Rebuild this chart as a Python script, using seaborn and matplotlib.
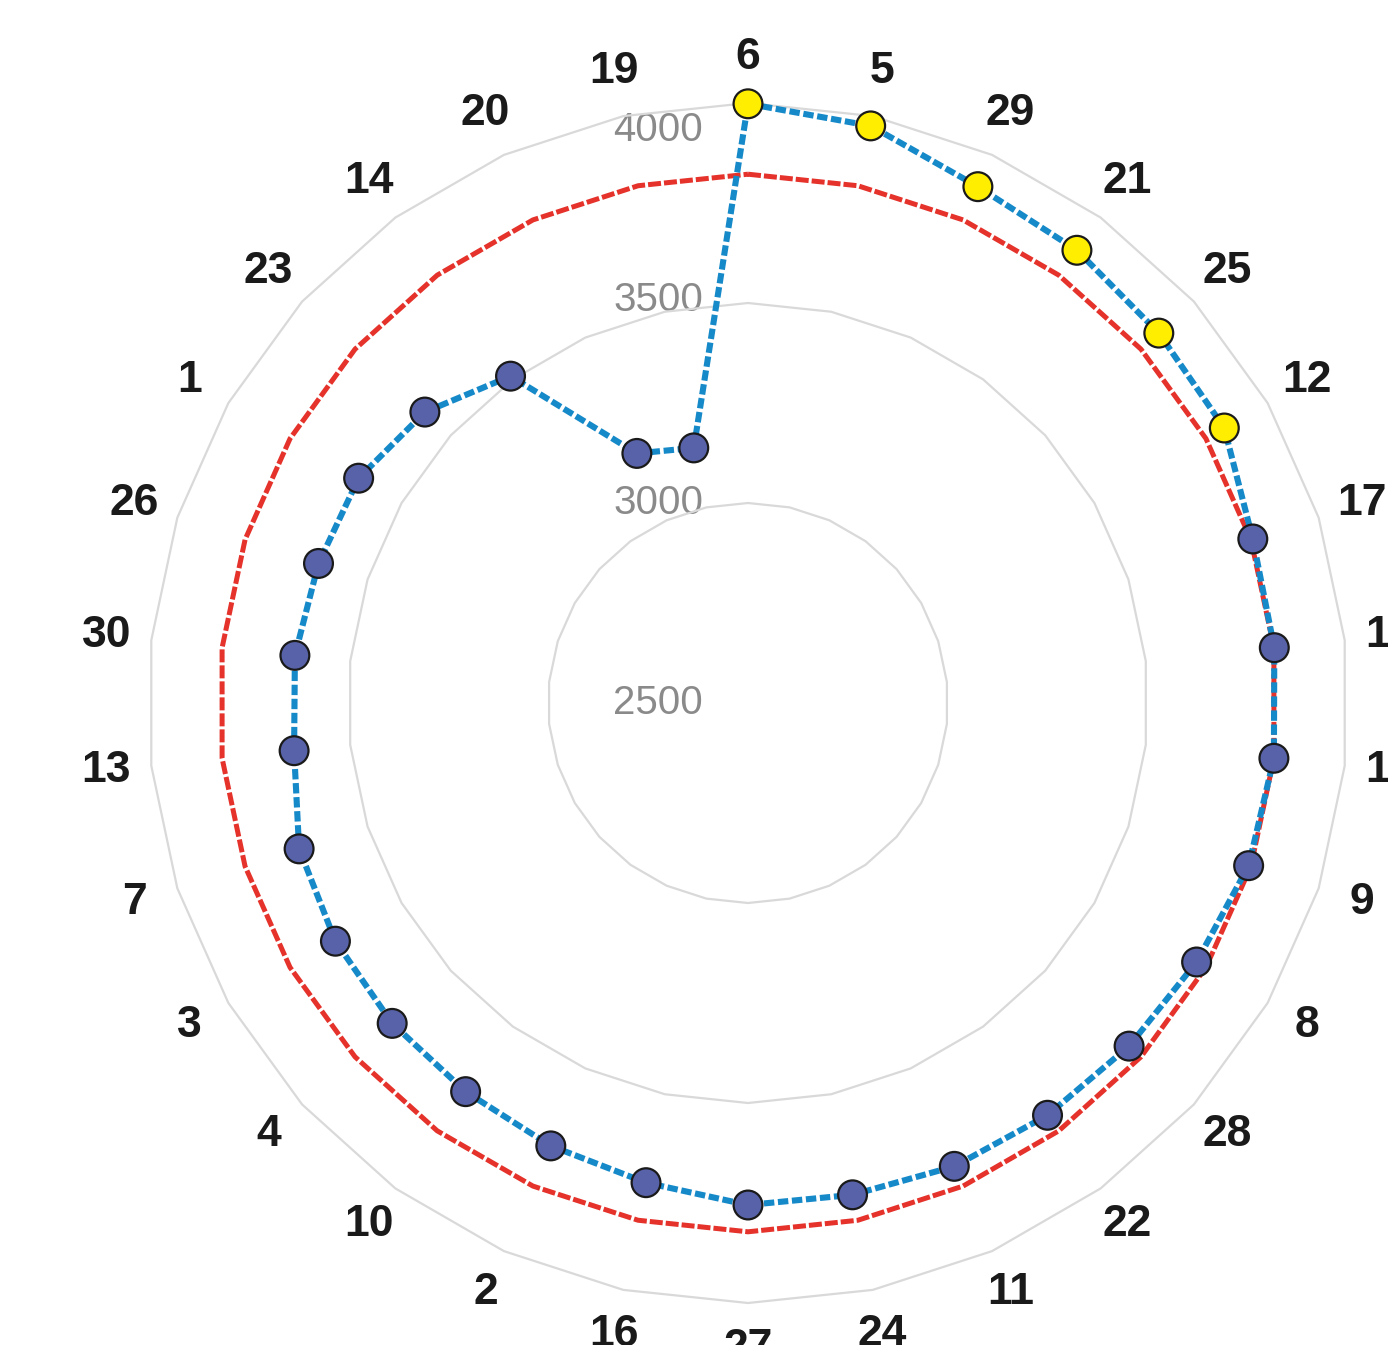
import numpy as np
import matplotlib
matplotlib.use("Agg")
import matplotlib.pyplot as plt
import matplotlib.transforms as mtransforms
import seaborn as sns
import pandas as pd

# categories, clockwise from the top
categories = ["6", "5", "29", "21", "25", "12", "17", "18", "15", "9",
              "8", "28", "22", "11", "24", "27", "16", "2", "10", "4",
              "3", "7", "13", "30", "26", "1", "23", "14", "20", "19"]

blue_values = [3998, 3975, 3913, 3899, 3882, 3875, 3827, 3823, 3822, 3816,
               3795, 3782, 3774, 3768, 3757, 3755, 3726, 3712, 3701, 3697,
               3691, 3680, 3641, 3639, 3629, 3624, 3587, 3510, 3183, 3152]

red_values = [3822, 3822, 3822, 3822, 3822, 3822, 3822, 3822, 3822, 3822,
              3822, 3822, 3822, 3822, 3822, 3822, 3822, 3822, 3822, 3822,
              3822, 3822, 3822, 3822, 3822, 3822, 3822, 3822, 3822, 3822]

# first six points are highlighted
highlight = ["yes"] * 6 + ["no"] * 24

grid_levels = [3000, 3500, 4000]
tick_values = [2500, 3000, 3500, 4000]
tick_label_pos = [2500, 3000, 3507, 3932]

sns.set_style("white")
plt.rcParams['font.family'] = ['Liberation Sans', 'DejaVu Sans']

n = len(categories)
theta = np.linspace(0, 2 * np.pi, n, endpoint=False)
theta_closed = np.append(theta, 2 * np.pi)

fig = plt.figure(figsize=(13.88, 13.45), dpi=100)
ax = fig.add_axes([68 / 1388, -38 / 1345, 1360 / 1388, 1360 / 1345], projection='polar')
ax.set_theta_zero_location('N')
ax.set_theta_direction(-1)
ax.set_ylim(2500, 4200)
ax.grid(False)
ax.spines['polar'].set_visible(False)
ax.set_xticks([])
ax.set_yticks([])
ax.patch.set_alpha(0)

# polygon gridlines
for lev in grid_levels:
    ax.plot(theta_closed, [lev] * (n + 1), color='#d9d9d9', linewidth=1.6, zorder=1)

df_red = pd.DataFrame({"theta": theta_closed, "value": red_values + red_values[:1]})
df_blue = pd.DataFrame({"theta": theta_closed, "value": blue_values + blue_values[:1]})
df_pts = pd.DataFrame({"theta": theta, "value": blue_values, "hl": highlight})

sns.lineplot(data=df_red, x="theta", y="value", ax=ax, sort=False, estimator=None,
             color='#e5322b', linewidth=3.6, zorder=2)
ax.lines[-1].set_linestyle((0, (2.6, 0.6)))

sns.lineplot(data=df_blue, x="theta", y="value", ax=ax, sort=False, estimator=None,
             color='#1689c9', linewidth=4.4, zorder=3)
ax.lines[-1].set_linestyle((0, (1.7, 0.6)))

sns.scatterplot(data=df_pts, x="theta", y="value", hue="hl", ax=ax,
                palette={"yes": '#ffee00', "no": '#5762a8'}, s=430,
                edgecolor='#1a1a1a', linewidth=1.6, zorder=4, legend=False)

ax.set_xlabel("")
ax.set_ylabel("")

# category labels
for t, lab in zip(theta, categories):
    ax.text(t, 4113, lab, ha='center', va='center', fontsize=32,
            fontweight='bold', color='#1a1a1a', clip_on=False)

# radial value labels
off = mtransforms.offset_copy(ax.transData, fig=fig, x=-45, y=0, units='dots')
for v, p in zip(tick_values, tick_label_pos):
    ax.text(0, p, str(v), transform=off, ha='right', va='center',
            fontsize=29, color='#8a8a8a', zorder=0)

fig.savefig("out.png", dpi=100, facecolor='white')
